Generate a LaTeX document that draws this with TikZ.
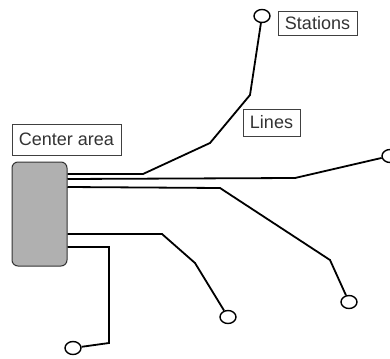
\documentclass[tikz,border=0pt]{standalone}
\usepackage{fontspec}
\setmainfont{Liberation Sans}
\usepackage{tikz}
\usetikzlibrary{shapes.geometric}

\begin{document}
\begin{tikzpicture}[
  x=1pt, y=-1pt,
  label box/.style={draw=black!75, line width=0.9pt, text=black!80, inner sep=0pt, font=\fontsize{18}{21}\selectfont},
  area/.style={draw=black!80, line width=1pt, fill=gray!62, rounded corners=6pt, minimum width=55pt, minimum height=104pt},
  station/.style={ellipse, draw=black, line width=1.4pt, fill=white, minimum width=16pt, minimum height=13pt, inner sep=0pt},
  line/.style={draw=black, line width=1.8pt}
]
  \useasboundingbox (0,0) rectangle (390,358);

  % centre et etiquettes
  \node[area] (center) at (39.5,214) {};
  \node[label box, minimum width=109pt, minimum height=31pt] (centerlabel) at (66.5,139.5) {Center area};
  \node[label box, minimum width=79pt, minimum height=24pt] (stationlabel) at (317.5,23) {Stations};
  \node[label box, minimum width=57pt, minimum height=27pt] (linelabel) at (271.5,122.5) {Lines};

  % stations
  \node[station] (st1) at (262,16) {};
  \node[station] (st2) at (390,156) {};
  \node[station] (st3) at (349,302) {};
  \node[station] (st4) at (228,317) {};
  \node[station] (st5) at (73,348) {};

  % lignes
  \draw[line] (center.east |- 0,174) -- (143,174) -- (210,143) -- (250,95) -- (st1);
  \draw[line] (center.east |- 0,179) -- (295,178) -- (st2);
  \draw[line] (center.east |- 0,187) -- (220,188) -- (330,260) -- (st3);
  \draw[line] (center.east |- 0,234) -- (162,234) -- (195,263) -- (st4);
  \draw[line] (center.east |- 0,247) -- (109,247) -- (109,343) -- (st5);
\end{tikzpicture}
\end{document}
